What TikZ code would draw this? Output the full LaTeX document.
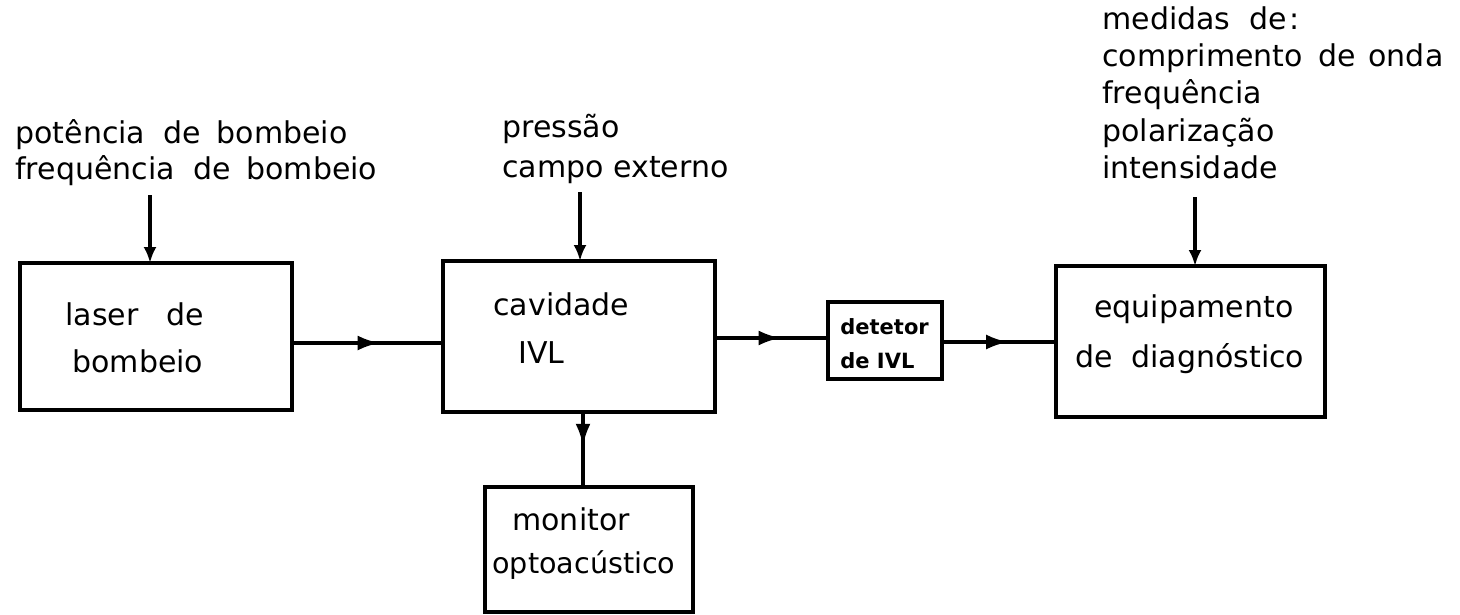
\documentclass[tikz,border=0pt]{standalone}
\usepackage{fontspec}
\setmainfont{DejaVu Sans}
\usetikzlibrary{arrows.meta,decorations.markings}
\begin{document}
\begin{tikzpicture}[x=0.5pt,y=-0.5pt,
 box/.style={draw,line width=1.7pt,inner sep=0pt,outer sep=0pt,anchor=north west},
 txt/.style={anchor=base west,inner sep=0pt,font=\fontsize{15}{18}\selectfont},
 small/.style={anchor=base west,inner sep=0pt,font=\fontsize{10.5}{12}\selectfont\bfseries},
 conn/.style={line width=1.7pt},
 midarrow/.style={postaction={decorate},decoration={markings,mark=at position #1 with {\arrow{Latex[length=11pt,width=7.5pt]}}}},
 endarrow/.style={-{Latex[length=8pt,width=6.5pt]}}
]
\useasboundingbox (0,0) rectangle (1460,615);

% boxes
\node[box,minimum width=136pt,minimum height=73.5pt] (laser) at (20,263) {};
\node[box,minimum width=136pt,minimum height=75.5pt] (cav) at (443,261) {};
\node[box,minimum width=104pt,minimum height=62.5pt] (mon) at (485,487) {};
\node[box,minimum width=57pt,minimum height=38.5pt] (det) at (828,302) {};
\node[box,minimum width=134.5pt,minimum height=75.5pt] (equip) at (1056,266) {};

% box texts
\node[txt] (t1) at (65,325) {laser\hspace{0.6em} de};
\node[txt] (t2) at (72,372) {bombeio};
\node[txt] (t3) at (493,315) {cavidade};
\node[txt] (t4) at (518,363) {IVL};
\node[txt] (t5) at (512,530) {monitor};
\node[txt,font=\fontsize{14.3}{17}\selectfont] (t6) at (492,573) {optoacústico};
\node[small] (t7) at (840,334) {detetor};
\node[small] (t8) at (840,368) {de IVL};
\node[txt] (t9) at (1094,317) {equipamento};
\node[txt] (t10) at (1075,367) {de\hspace{0.3em} diagnóstico};

% input labels
\node[txt] (l1) at (15,143) {potência\hspace{0.3em} de\hspace{0.2em} bombeio};
\node[txt] (l2) at (15,179) {frequência\hspace{0.3em} de\hspace{0.2em} bombeio};
\node[txt] (l3) at (502,137) {pressão};
\node[txt] (l4) at (502,177) {campo externo};
\node[txt] (l5) at (1102,30) {medidas\hspace{0.3em} de\hspace{0.1em}:};
\node[txt] (l6) at (1102,67) {comprimento\hspace{0.2em} de\hspace{0.1em} onda};
\node[txt] (l7) at (1102,104) {frequência};
\node[txt] (l8) at (1102,141) {polarização};
\node[txt] (l9) at (1102,178) {intensidade};

% input arrows
\coordinate (in1) at (150,195);
\coordinate (in2) at (580,192);
\coordinate (in3) at (1195,197);
\draw[conn,endarrow] (in1) -- (laser.north -| in1);
\draw[conn,endarrow] (in2) -- (cav.north -| in2);
\draw[conn,endarrow] (in3) -- (equip.north -| in3);

% main chain
\coordinate (h1) at (0,343);
\coordinate (h2) at (0,338);
\coordinate (h3) at (0,342);
\draw[conn,midarrow=0.58] (laser.east |- h1) -- (cav.west |- h1);
\draw[conn,midarrow=0.58] (cav.east |- h2) -- (det.west |- h2);
\draw[conn,midarrow=0.58] (det.east |- h3) -- (equip.west |- h3);
\coordinate (v1) at (583,0);
\draw[conn,midarrow=0.45] (cav.south -| v1) -- (mon.north -| v1);
\end{tikzpicture}
\end{document}
